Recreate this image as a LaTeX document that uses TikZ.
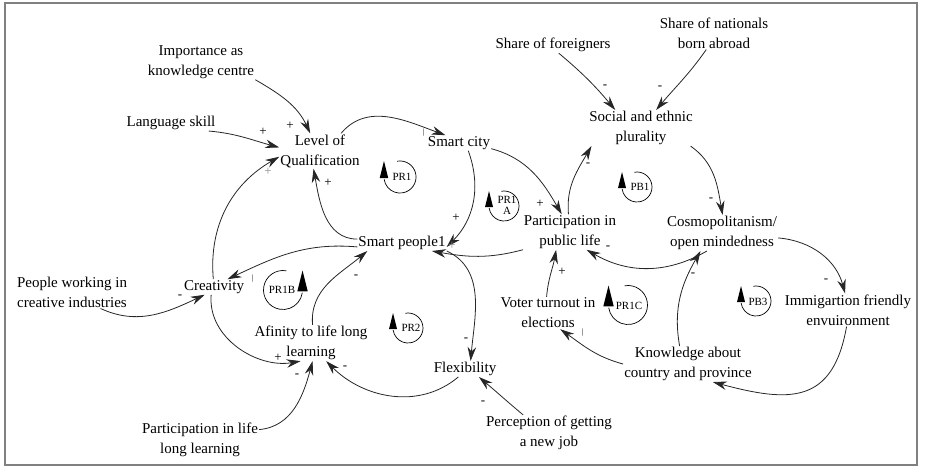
\documentclass[tikz,border=0pt]{standalone}
\usepackage{fontspec}
\setmainfont{Liberation Serif}
\usetikzlibrary{arrows.meta}
\tikzset{
  lpl/.pic={
    \draw[line width=0.7pt] (100:15pt) arc[start angle=100,end angle=-172,radius=15pt];
    \fill (-15,-15) -- (-19,1) -- (-11,1) -- cycle;
  },
  lpr/.pic={
    \draw[line width=0.7pt] (80:15pt) arc[start angle=80,end angle=352,radius=15pt];
    \fill (15,-15) -- (19,1) -- (11,1) -- cycle;
  }
}
\begin{document}
\begin{tikzpicture}[x=1pt,y=-1pt,
  var/.style={align=center, inner sep=1pt, font=\rmfamily\fontsize{15}{20}\selectfont},
  link/.style={draw=black!85, line width=0.8pt, -{Stealth[length=14pt,width=8.5pt]}},
  pol/.style={font=\rmfamily\fontsize{13}{13}\selectfont, inner sep=0pt},
  polg/.style={pol, text=black!45},
  tick/.style={font=\fontsize{8}{8}\selectfont, inner sep=0pt},
  lbl/.style={font=\rmfamily\fontsize{11}{11}\selectfont, inner sep=0pt, align=center}
]
\useasboundingbox (0,0) rectangle (925,469);
\draw[black!50, line width=1.2pt] (5,3) rectangle (917,465);

% variables
\node[var] (imp)  at (201,62)  {Importance as\\knowledge centre};
\node[var] (lang) at (171,123) {Language skill};
\node[var] (lq)   at (320,151) {Level of\\Qualification};
\node[var] (sc)   at (459,143) {Smart city};
\node[var] (sep)  at (641,128) {Social and ethnic\\plurality};
\node[var] (sf)   at (553,45)  {Share of foreigners};
\node[var] (sn)   at (714,33)  {Share of nationals\\born abroad};
\node[var] (ppl)  at (570,232) {Participation in\\public life};
\node[var] (cos)  at (722,233) {Cosmopolitanism/\\open mindedness};
\node[var] (sp)   at (402,243) {Smart people1};
\node[var] (cre)  at (214,287) {Creativity};
\node[var] (pw)   at (72,292)  {People working in\\creative industries};
\node[var] (aff)  at (311,343) {Afinity to life long\\learning};
\node[var] (flex) at (465,369) {Flexibility};
\node[var] (perc) at (549,433) {Perception of getting\\a new job};
\node[var] (pll)  at (200,440) {Participation in life\\long learning};
\node[var] (vt)   at (548,313) {Voter turnout in\\elections};
\node[var] (kn)   at (688,364) {Knowledge about\\country and province};
\node[var] (imm)  at (848,310) {Immigartion friendly\\envuironment};

% causal links
\draw[link] (imp.south east) to[out=-30,in=115] (lq.119);
\draw[link] (lang.-12) to[out=-5,in=165] (lq.175);
\draw[link] (cre.95) to[out=95,in=-150] (lq.188);
\draw[link] (sp.175) to[out=180,in=-80] (lq.-110);
\draw[link] (lq.40) to[out=50,in=160] (sc.150);
\draw[link] (sc.-40) to[out=-70,in=45] (sp.-5);
\draw[link] (sc.-10) to[out=-15,in=120] (ppl.115);
\draw[link] (ppl.95) to[out=95,in=-120] (sep.-160);
\draw[link] (sf.-55) to[out=-40,in=130] (sep.145);
\draw[link] (sn.-115) to[out=-125,in=50] (sep.50);
\draw[link] (sep.-20) to[out=-35,in=100] (cos.88);
\draw[link] (cos.-5) to[out=-5,in=105] (imm.100);
\draw[link] (imm.-95) to[out=-100,in=-15,looseness=1.4] (kn.-36);
\draw[link] (kn.115) to[out=100,in=-120] (cos.-140);
\draw[link] (cos.-130) to[out=-150,in=-30] (ppl.-47);
\draw[link] (vt.95) to[out=85,in=-100] (ppl.-128);
\draw[link] (kn.180) to[out=165,in=-35] (vt.-53);
\draw[link] (ppl.south west) to[out=-165,in=-10] (sp.-15);
\draw[link] (sp.185) to[out=175,in=25] (cre.30);
\draw[link] (sp.south east) to[out=-25,in=85] (flex.55);
\draw[link] (flex.-130) to[out=-140,in=-45] (aff.-50);
\draw[link] (aff.85) to[out=95,in=-140] (sp.-167);
\draw[link] (pll.10) to[out=5,in=-105] (aff.-85);
\draw[link] (cre.-110) to[out=-95,in=-170] (aff.-120);
\draw[link] (pw.-30) to[out=-25,in=-155] (cre.-140);
\draw[link] (perc.145) to[out=140,in=-40] (flex.-30);

% polarities
\node[pol]  (p1)  at (290,126) {+};
\node[pol]  (p2)  at (263,132) {+};
\node[polg] (p3)  at (268,172) {+};
\node[pol]  (p4)  at (328,183) {+};
\node[pol]  (p5)  at (456,218) {+};
\node[polg] (p6)  at (452,246) {+};
\node[pol]  (p7)  at (540,204) {+};
\node[pol]  (p8)  at (588,165) {-};
\node[pol]  (p9)  at (605,87)  {-};
\node[pol]  (p10) at (660,88)  {-};
\node[pol]  (p11) at (711,200) {-};
\node[pol]  (p12) at (826,281) {-};
\node[pol]  (p13) at (693,275) {-};
\node[pol]  (p14) at (608,248) {-};
\node[pol]  (p15) at (562,272) {+};
\node[pol]  (p16) at (356,277) {-};
\node[pol]  (p17) at (466,340) {-};
\node[pol]  (p18) at (345,368) {-};
\node[pol]  (p19) at (483,403) {-};
\node[pol]  (p20) at (278,358) {+};
\node[pol]  (p21) at (297,376) {-};
\node[pol]  (p22) at (180,297) {-};

% small delay ticks
\node[tick] (t1) at (424,133) {|};
\node[tick] (t2) at (253,279) {|};
\node[tick] (t3) at (583,333) {|};

% loop markers
\pic[scale=1.07] at (400,177) {lpl};
\node[lbl] (lPR1) at (402,177) {PR1};
\pic at (504,206) {lpl};
\node[lbl] (lPR1A) at (507,205) {PR1\\A};
\pic at (637,187) {lpl};
\node[lbl] (lPB1) at (640,187) {PB1};
\pic at (408,328) {lpl};
\node[lbl] (lPR2) at (411,328) {PR2};
\pic[scale=1.3] at (628,305) {lpl};
\node[lbl] (lPR1C) at (629,306) {PR1C};
\pic at (756,301) {lpl};
\node[lbl] (lPB3) at (758,302) {PB3};
\pic[scale=1.3] at (283,290) {lpr};
\node[lbl] (lPR1B) at (282,290) {PR1B};
\end{tikzpicture}
\end{document}
